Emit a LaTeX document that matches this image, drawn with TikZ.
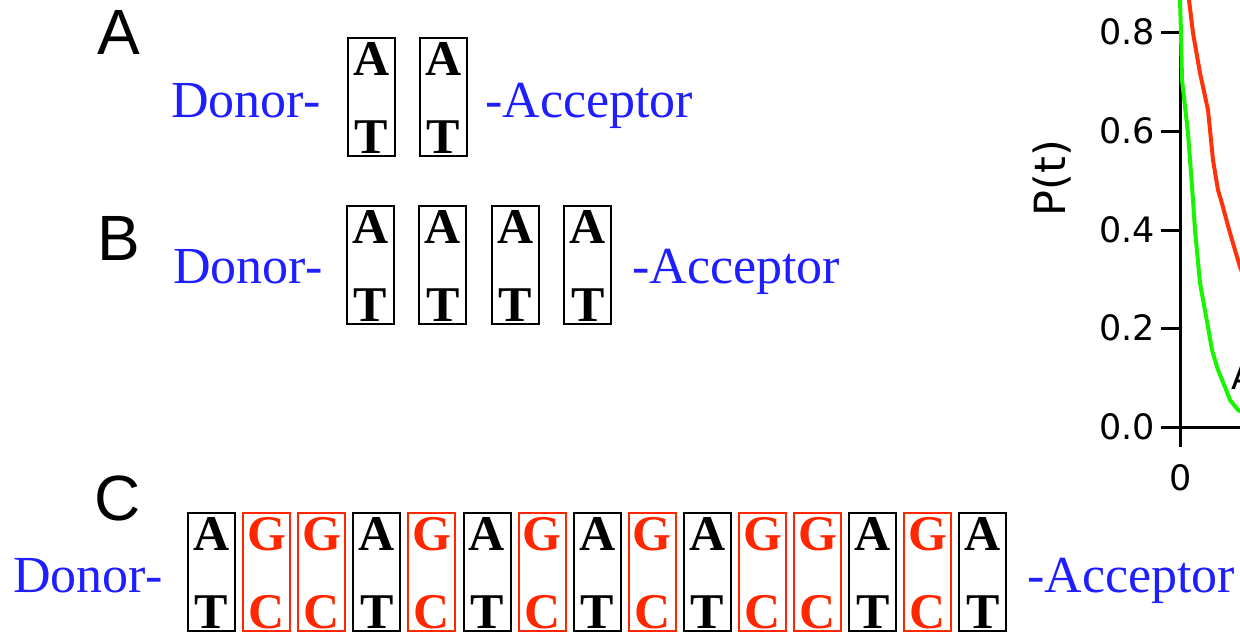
\documentclass[tikz,border=0pt]{standalone}
\usepackage{fontspec}
\setmainfont{Liberation Serif}
\newfontfamily\panelfont{Liberation Sans}
\newfontfamily\plotfont{DejaVu Sans}

\definecolor{dnablue}{RGB}{30,30,255}
\definecolor{gcred}{RGB}{255,38,0}
\definecolor{curvered}{RGB}{255,50,10}
\definecolor{curvegreen}{RGB}{25,245,0}

\tikzset{
  panel/.style={font=\panelfont\fontsize{64}{70}\selectfont, anchor=base west, inner sep=0pt},
  endlabel/.style={font=\fontsize{52}{60}\selectfont, text=dnablue, anchor=base west, inner sep=0pt},
  pairbox/.style={draw, line width=2pt, minimum width=47pt, minimum height=118pt,
                  inner sep=0pt, outer sep=0pt, anchor=north west},
  baseletter/.style={font=\bfseries\fontsize{50}{50}\selectfont, anchor=base, inner sep=0pt},
  axisline/.style={line width=3pt, black},
  ticklabel/.style={font=\plotfont\fontsize{35}{40}\selectfont, inner sep=0pt},
  curve/.style={line width=4pt, line join=round},
}

% one base pair: name, left x, top y, upper letter, lower letter, colour
\newcommand\basepair[6]{%
  \node[pairbox, draw=#6] (#1) at ({#2+1},{#3+1}) {};
  \node[baseletter, text=#6] (#1u) at ({#2+24.5},{#3+38}) {#4};
  \node[baseletter, text=#6] (#1l) at ({#2+24.5},{#3+116}) {#5};
}

\begin{document}
\begin{tikzpicture}[x=1pt, y=-1pt]
\useasboundingbox (0,0) rectangle (1240,635);
\clip (0,0) rectangle (1240,635);

% ---- panel A: two A-T pairs
\node[panel] (labA) at (97,54) {A};
\node[endlabel] (donA) at (171,117) {Donor-};
\basepair{a0}{347}{37}{A}{T}{black}
\basepair{a1}{419}{37}{A}{T}{black}
\node[endlabel] (accA) at (485,117) {-Acceptor};

% ---- panel B: four A-T pairs
\node[panel] (labB) at (97,260) {B};
\node[endlabel] (donB) at (173,283) {Donor-};
\foreach \i in {0,...,3} {
  \basepair{b\i}{346+72.4*\i}{205}{A}{T}{black}
}
\node[endlabel] (accB) at (632,283) {-Acceptor};

% ---- panel C: mixed sequence
\node[panel] (labC) at (94,520) {C};
\node[endlabel] (donC) at (13,592) {Donor-};
\foreach \u/\l/\c [count=\i from 0] in {A/T/black, G/C/gcred, G/C/gcred, A/T/black,
    G/C/gcred, A/T/black, G/C/gcred, A/T/black, G/C/gcred, A/T/black, G/C/gcred,
    G/C/gcred, A/T/black, G/C/gcred, A/T/black} {
  \basepair{c\i}{187+55.1*\i}{512}{\u}{\l}{\c}
}
\node[endlabel] (accC) at (1027,592) {-Acceptor};

% ---- decay plot
\draw[axisline] (1180,0) -- (1180,447);
\draw[axisline] (1161,427) -- (1240,427);
\foreach \v/\y [count=\k] in {0.0/427, 0.2/328, 0.4/230, 0.6/131, 0.8/32} {
  \draw[axisline] (1161,\y) -- (1180,\y);
  \node[ticklabel, anchor=east] (ytick\k) at (1155,\y) {\v};
}
\node[ticklabel] (xtick0) at (1181,478) {0};
\node[font=\plotfont\fontsize{43}{48}\selectfont, rotate=90, inner sep=0pt] (ylab) at (1052,178) {P(t)};

\draw[curve, curvered] (1189,-5) -- (1189,0) -- (1193,33) -- (1200,73) -- (1208,110)
  -- (1213,160) -- (1218,190) -- (1221,200) -- (1230,233) -- (1235,250) -- (1240,267) -- (1246,282);
\draw[curve, curvegreen] (1179,-5) -- (1180,0) -- (1181,33) -- (1182,80) -- (1188,133)
  -- (1193,200) -- (1195,230) -- (1200,283) -- (1208,327) -- (1212,350) -- (1218,370)
  -- (1225,387) -- (1230,400) -- (1238,410) -- (1250,416);
\node[ticklabel, anchor=base west] (curvelabel) at (1231,389) {A};
\end{tikzpicture}
\end{document}
